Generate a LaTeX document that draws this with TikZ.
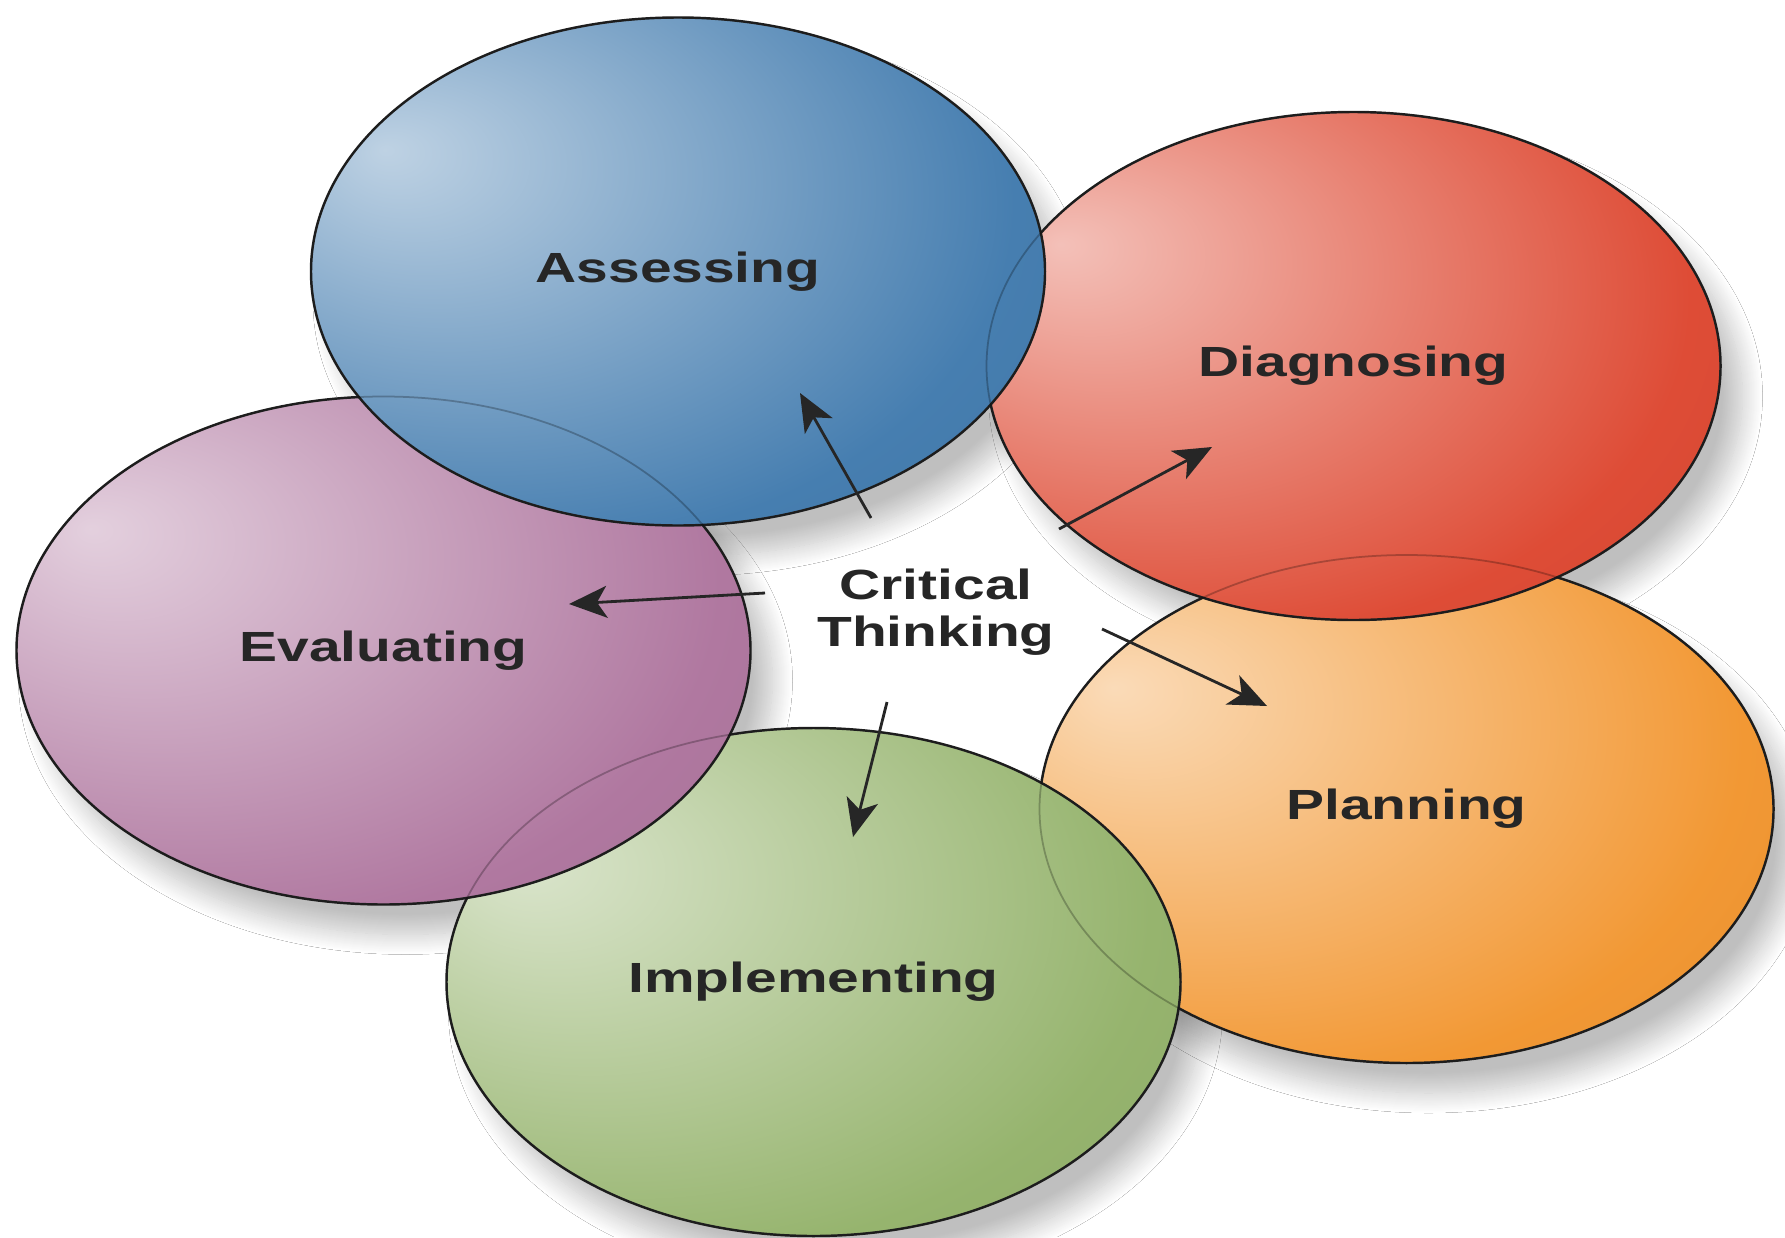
\documentclass[tikz,border=0pt]{standalone}
\usepackage{fontspec}
\setmainfont{Liberation Sans}
\usetikzlibrary{shapes.geometric, positioning, arrows.meta, shadows.blur}

\colorlet{orbtone}{blue}
\pgfdeclareradialshading[orbtone]{orb}{\pgfpoint{-20bp}{12bp}}{%
  color(0bp)=(orbtone!35!white); color(12bp)=(orbtone!58!white);
  color(34bp)=(orbtone); color(76bp)=(orbtone!80!black)}

\definecolor{assessblue}{RGB}{70,126,176}
\definecolor{diagred}{RGB}{222,76,54}
\definecolor{evalpurple}{RGB}{176,120,160}
\definecolor{planorange}{RGB}{242,152,52}
\definecolor{implgreen}{RGB}{150,180,110}

\newcommand{\widelabel}[1]{\scalebox{1.35}[1]{#1}}

\tikzset{
  orb/.style={ellipse, draw=black!85, line width=0.7pt,
    minimum width=7.34cm, minimum height=5.08cm, inner sep=0pt,
    /utils/exec={\colorlet{orbtone}{#1}}, shade, shading=orb,
    font=\bfseries\fontsize{12}{14}\selectfont, text=black!85},
  orb shadow/.style={blur shadow={shadow xshift=2.2mm, shadow yshift=-3mm,
    shadow blur radius=2mm, shadow blur steps=20, shadow opacity=25}},
  hidden rim/.style={black, opacity=0.25, line width=0.5pt},
  pointer/.style={-{Stealth[length=3.8mm, width=3.2mm, inset=1mm]},
    line width=0.8pt, black!85},
  hub/.style={align=center, font=\bfseries\fontsize{12}{13.3}\selectfont, text=black!85}
}

\begin{document}
\begin{tikzpicture}
  \path[use as bounding box, fill=white] (0,0) rectangle (17.85,12.37);

  % centres of the five steps
  \coordinate (c-assess) at (6.78,9.655);
  \coordinate (c-diag) at (13.535,8.71);
  \coordinate (c-eval) at (3.835,5.865);
  \coordinate (c-plan) at (14.065,4.28);
  \coordinate (c-impl) at (8.135,2.55);

  % soft shadows first, so none falls on a neighbour
  \foreach \s in {assess,diag,eval,plan,impl}
    \path[orb shadow] (c-\s) ellipse [x radius=3.67cm, y radius=2.54cm];

  % back to front
  \node[orb=planorange] (plan) at (c-plan) {\widelabel{Planning}};
  \node[orb=diagred] (diag) at (c-diag) {\widelabel{Diagnosing}};
  \node[orb=implgreen] (impl) at (c-impl) {\widelabel{Implementing}};
  \node[orb=evalpurple] (eval) at (c-eval) {\widelabel{Evaluating}};
  \node[orb=assessblue] (assess) at (c-assess) {\widelabel{Assessing}};

  % rims seen through the front orbs
  \foreach \s in {assess,diag,eval,plan,impl}
    \draw[hidden rim] (\s.center) ellipse [x radius=3.67cm, y radius=2.54cm];

  \node[hub] (ct) at (9.36,6.245) {\widelabel{Critical}\\\widelabel{Thinking}};

  \coordinate (t-assess) at (8.71,7.19);
  \coordinate (h-assess) at (8.00,8.44);
  \coordinate (t-diag) at (10.59,7.08);
  \coordinate (h-diag) at (12.12,7.90);
  \coordinate (t-eval) at (7.65,6.44);
  \coordinate (h-eval) at (5.69,6.33);
  \coordinate (t-plan) at (11.02,6.08);
  \coordinate (h-plan) at (12.67,5.31);
  \coordinate (t-impl) at (8.87,5.35);
  \coordinate (h-impl) at (8.53,4.00);

  \foreach \s in {assess,diag,eval,plan,impl}
    \draw[pointer] (t-\s) -- (h-\s);
\end{tikzpicture}
\end{document}
